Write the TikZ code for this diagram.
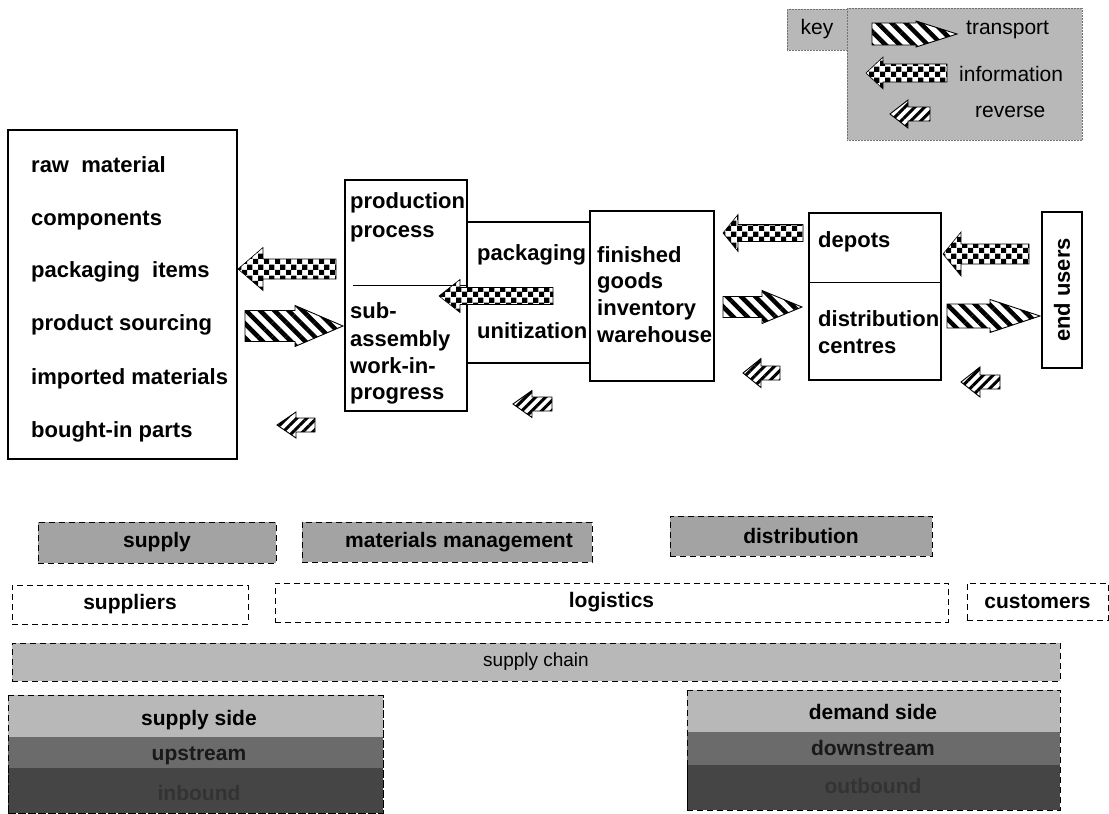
\documentclass[tikz,border=0pt]{standalone}
\usepackage{fontspec}
\setmainfont{Liberation Sans}
\usetikzlibrary{patterns,patterns.meta}

% checkerboard used for the information arrows
\pgfdeclarepatternformonly{bigchecks}{\pgfpointorigin}{\pgfqpoint{11pt}{11pt}}{\pgfqpoint{11pt}{11pt}}{%
  \pgfpathrectangle{\pgfpointorigin}{\pgfqpoint{5.6pt}{5.6pt}}%
  \pgfpathrectangle{\pgfqpoint{5.5pt}{5.5pt}}{\pgfqpoint{5.6pt}{5.6pt}}%
  \pgfusepath{fill}}

\definecolor{keygray}{gray}{0.72}
\definecolor{shadegray}{gray}{0.64}
\definecolor{chaingray}{gray}{0.72}
\definecolor{midgray}{gray}{0.42}
\definecolor{darkgray}{gray}{0.27}

% block arrow: style, tail x, head base x, tip x, centre y, shaft half width, head half width
\newcommand{\flowarrow}[7]{%
  \path[#1] (#2,{#5-#6}) -- (#3,{#5-#6}) -- (#3,{#5-#7}) -- (#4,#5)
    -- (#3,{#5+#7}) -- (#3,{#5+#6}) -- (#2,{#5+#6}) -- cycle;}

\tikzset{
  solidbox/.style={draw=black, line width=1.1pt, fill=white, anchor=north west,
    outer sep=0pt, inner sep=0pt},
  dashbox/.style={draw=black, line width=1pt, dash pattern=on 6pt off 4pt,
    anchor=north west, outer sep=0pt, inner sep=0pt},
  shadebox/.style={dashbox, fill=shadegray},
  keybox/.style={draw=black!55, line width=0.5pt, densely dotted, fill=keygray,
    anchor=north west, outer sep=0pt, inner sep=0pt},
  boxtext/.style={font=\fontsize{22}{26}\selectfont\bfseries,
    inner sep=0pt, anchor=base west},
  labeltext/.style={font=\fontsize{21}{24}\selectfont\bfseries, inner sep=0pt},
  keytext/.style={font=\fontsize{21}{24}\selectfont, inner sep=0pt},
  transportarrow/.style={preaction={fill=white},
    pattern={Lines[angle=-45,distance=10pt,line width=4.5pt]},
    draw=black, line width=0.9pt},
  infoarrow/.style={preaction={fill=white}, pattern=bigchecks,
    draw=black, line width=0.6pt},
  reversearrow/.style={preaction={fill=white},
    pattern={Lines[angle=45,distance=7pt,line width=3pt]},
    draw=black, line width=0.9pt},
}

\begin{document}
\begin{tikzpicture}[x=1pt,y=-1pt]
\useasboundingbox (0,0) rectangle (1109,814);

% ---------- key ----------
\node[keybox, minimum width=235pt, minimum height=132pt] (keypanel) at (847,8) {};
\node[keybox, minimum width=60pt, minimum height=41pt] (keylabel) at (787,9) {};
\node[keytext] (keyword) at (keylabel.center) {key};
\flowarrow{transportarrow}{872}{916}{957}{34}{11}{13}
\node[keytext, anchor=west] (keytransport) at (966,30) {transport};
\flowarrow{infoarrow}{947}{883}{866}{73}{9}{16}
\node[keytext, anchor=west] (keyinformation) at (959,74) {information};
\flowarrow{reversearrow}{930}{908}{890}{114}{7}{14}
\node[keytext, anchor=west] (keyreverse) at (975,112) {reverse};

% ---------- sources ----------
\node[solidbox, minimum width=229pt, minimum height=329pt] (sources) at (8,130) {};
\node[boxtext] (rawmat) at (31,172) {raw\ \ material};
\node[boxtext] (components) at (31,225) {components};
\node[boxtext] (packitems) at (31,277) {packaging\ \ items};
\node[boxtext] (sourcing) at (31,330) {product sourcing};
\node[boxtext] (imported) at (31,384) {imported materials};
\node[boxtext] (boughtin) at (31,437) {bought-in parts};

\flowarrow{infoarrow}{336}{263}{238}{269}{10}{21.5}
\flowarrow{transportarrow}{245}{295}{343}{326}{15.5}{20.5}
\flowarrow{reversearrow}{315}{296}{277}{425}{7}{13}

% ---------- production ----------
\node[solidbox, minimum width=122pt, minimum height=231pt] (production) at (345,180) {};
\draw[line width=1pt] (353,285) coordinate (divl) -- (production.east |- 0,285) coordinate (divr);
\node[boxtext] (prodl1) at (350,208) {production};
\node[boxtext] (prodl2) at (350,237) {process};
\node[boxtext] (subl1) at (350,318) {sub-};
\node[boxtext] (subl2) at (350,346) {assembly};
\node[boxtext] (subl3) at (350,373) {work-in-};
\node[boxtext] (subl4) at (350,399) {progress};

% ---------- packaging ----------
\node[solidbox, minimum width=123pt, minimum height=141pt] (packaging) at (467,222) {};
\node[boxtext] (packtext) at (477,260) {packaging};
\node[boxtext] (unittext) at (477,338) {unitization};

\flowarrow{infoarrow}{553}{460}{439}{296}{8.5}{16.5}
\flowarrow{reversearrow}{552}{532}{513}{404}{7}{13.5}

% ---------- finished goods ----------
\node[solidbox, minimum width=124pt, minimum height=170pt] (finished) at (590,211) {};
\node[boxtext] (finl1) at (597,262) {finished};
\node[boxtext] (finl2) at (597,288) {goods};
\node[boxtext] (finl3) at (597,315) {inventory};
\node[boxtext] (finl4) at (597,342) {warehouse};

\flowarrow{infoarrow}{803}{738}{723}{233}{8.5}{18.5}
\flowarrow{transportarrow}{723}{762}{802}{307}{10.5}{16.5}
\flowarrow{reversearrow}{780}{761}{743}{373}{7}{14.5}

% ---------- depots / distribution centres ----------
\node[solidbox, minimum width=132pt, minimum height=167pt] (depots) at (809,213) {};
\draw[line width=1pt] (depots.west |- 0,282) -- (depots.east |- 0,282);
\node[boxtext] (depottext) at (818,247) {depots};
\node[boxtext] (dcl1) at (818,326) {distribution};
\node[boxtext] (dcl2) at (818,353) {centres};

\flowarrow{infoarrow}{1029}{961}{943}{254}{10}{22}
\flowarrow{transportarrow}{947}{990}{1040}{316}{12}{16.5}
\flowarrow{reversearrow}{1000}{980}{961}{382}{7}{15}

% ---------- end users ----------
\node[solidbox, minimum width=40pt, minimum height=156pt] (endusers) at (1042,212) {};
\node[font=\fontsize{22}{26}\selectfont\bfseries, rotate=90, inner sep=0pt]
  (endtext) at (endusers.center) {end users};

% ---------- functions ----------
\node[shadebox, minimum width=238pt, minimum height=41pt] (supply) at (38,522) {};
\node[labeltext] at (supply.center) {supply};
\node[shadebox, minimum width=290pt, minimum height=40pt] (matman) at (302,522) {};
\node[labeltext] at ([xshift=12pt]matman.center) {materials management};
\node[shadebox, minimum width=262pt, minimum height=40pt] (distribution) at (670,516) {};
\node[labeltext] at (distribution.center) {distribution};

\node[dashbox, fill=white, minimum width=236pt, minimum height=39pt] (suppliers) at (12,585) {};
\node[labeltext] at (suppliers.center) {suppliers};
\node[dashbox, fill=white, minimum width=673pt, minimum height=39pt] (logistics) at (275,583) {};
\node[labeltext] at (logistics.center) {logistics};
\node[dashbox, fill=white, minimum width=141pt, minimum height=37pt] (customers) at (967,583) {};
\node[labeltext] at (customers.center) {customers};

\node[dashbox, fill=chaingray, minimum width=1048pt, minimum height=38pt] (chain) at (12,643) {};
\node[keytext, font=\fontsize{19}{22}\selectfont] at (chain.center) {supply chain};

% ---------- supply side ----------
\node[dashbox, fill=darkgray, minimum width=375pt, minimum height=118pt] (supplyside) at (8,695) {};
\fill[midgray] (supplyside.north west |- 0,737) rectangle (supplyside.east |- 0,768);
\fill[chaingray] (supplyside.north west) rectangle (supplyside.east |- 0,737);
\draw[line width=1pt, dash pattern=on 6pt off 4pt] (supplyside.north west) rectangle (supplyside.south east);
\node[labeltext] at (199,720) {supply side};
\node[labeltext, text=black!90] at (199,756) {upstream};
\node[labeltext, text=black!80] at (199,793) {inbound};

% ---------- demand side ----------
\node[dashbox, fill=darkgray, minimum width=373pt, minimum height=120pt] (demandside) at (687,690) {};
\fill[midgray] (demandside.north west |- 0,732) rectangle (demandside.east |- 0,765);
\fill[chaingray] (demandside.north west) rectangle (demandside.east |- 0,732);
\draw[line width=1pt, dash pattern=on 6pt off 4pt] (demandside.north west) rectangle (demandside.south east);
\node[labeltext] at (873,712) {demand side};
\node[labeltext, text=black!90] at (873,748) {downstream};
\node[labeltext, text=black!80] at (873,786) {outbound};
\end{tikzpicture}
\end{document}
